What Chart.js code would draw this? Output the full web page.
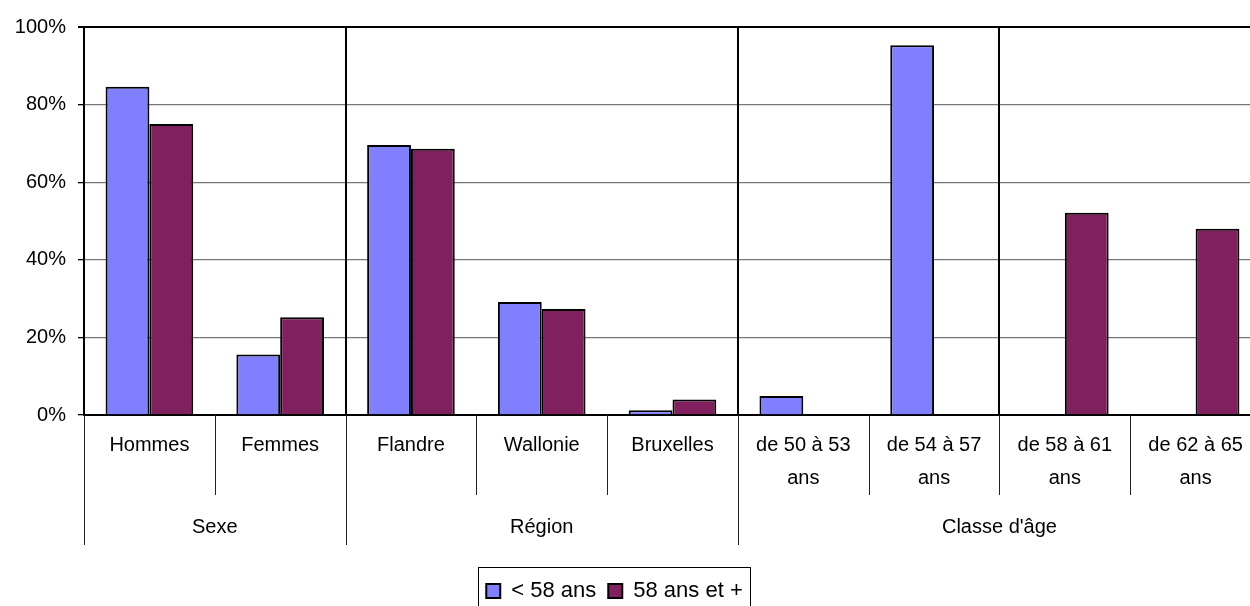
<!DOCTYPE html>
<html>
<head>
<meta charset="utf-8">
<script src="https://cdn.jsdelivr.net/npm/chart.js@4.4.0/dist/chart.umd.min.js"></script>
<style>
  html, body { margin: 0; padding: 0; background: #fff; overflow: hidden; }
  #wrap { width: 1261px; height: 620px; }
</style>
</head>
<body>
<div id="wrap"><canvas id="myChart"></canvas></div>
<script>
// categories (multi-line labels as arrays)
const categories = [
    ['Hommes'], ['Femmes'],
    ['Flandre'], ['Wallonie'], ['Bruxelles'],
    ['de 50 à 53', 'ans'], ['de 54 à 57', 'ans'], ['de 58 à 61', 'ans'], ['de 62 à 65', 'ans']
];
const groupLabels = ['Sexe', 'Région', "Classe d'âge"];
const groupSizes = [2, 3, 4];
const seriesNames = ['< 58 ans', '58 ans et +'];
// values in %
const under58 = [84.6, 15.6, 69.6, 29.1, 1.2, 4.9, 95.3, 0, 0];
const over58 = [75.0, 25.2, 68.6, 27.3, 4.0, 0, 0, 52.1, 48.0];
// black lines through the plot, at these category boundaries
const plotSeparators = [2, 5, 7];

Chart.defaults.font.family = "'Liberation Sans', Arial, sans-serif";
Chart.defaults.font.size = 20;
Chart.defaults.color = '#000';

function edgeOf(chart, i) {
    const x = chart.scales.x, a = chart.chartArea;
    if (i <= 0) return a.left;
    if (i >= categories.length) return a.right;
    return (x.getPixelForValue(i - 1) + x.getPixelForValue(i)) / 2;
}

const groupAxis = {
    id: 'groupAxis',
    afterLayout(chart) {
        // legend sits a bit left of the canvas centre
        const lg = chart.legend, shift = 16;
        lg.left -= shift;
        lg.right -= shift;
        (lg.legendHitBoxes || []).forEach(b => { b.left -= shift; });
    },
    beforeDatasetsDraw(chart) {
        const ctx = chart.ctx, a = chart.chartArea;
        ctx.save();
        ctx.strokeStyle = '#000';
        ctx.lineWidth = 2;
        plotSeparators.forEach(i => {
            const px = Math.round(edgeOf(chart, i));
            ctx.beginPath();
            ctx.moveTo(px, a.top);
            ctx.lineTo(px, a.bottom);
            ctx.stroke();
        });
        ctx.restore();
    },
    afterDraw(chart) {
        const ctx = chart.ctx, a = chart.chartArea;
        ctx.save();
        ctx.strokeStyle = '#222';
        ctx.lineWidth = 1;
        // category separators under the axis
        for (let i = 1; i < categories.length; i++) {
            const px = Math.round(edgeOf(chart, i)) + 0.5;
            ctx.beginPath();
            ctx.moveTo(px, a.bottom);
            ctx.lineTo(px, a.bottom + 80);
            ctx.stroke();
        }
        // group separators + labels
        let start = 0;
        ctx.font = "20px 'Liberation Sans', Arial, sans-serif";
        ctx.fillStyle = '#000';
        ctx.textAlign = 'center';
        ctx.textBaseline = 'middle';
        groupLabels.forEach((g, k) => {
            const x0 = edgeOf(chart, start);
            const x1 = edgeOf(chart, start + groupSizes[k]);
            const px = Math.round(x0) + 0.5;
            ctx.beginPath();
            ctx.moveTo(px, a.bottom);
            ctx.lineTo(px, a.bottom + 130);
            ctx.stroke();
            ctx.fillText(g, (x0 + x1) / 2, a.bottom + 112);
            start += groupSizes[k];
        });
        // legend frame
        const boxes = chart.legend.legendHitBoxes;
        if (boxes && boxes.length) {
            const first = boxes[0], last = boxes[boxes.length - 1];
            const l = Math.round(first.left - 8) + 0.5;
            const r = Math.round(last.left + last.width + 7) + 0.5;
            const t = Math.round(chart.legend.top) - 0.5;
            const b = Math.round(chart.legend.bottom) + 4.5;
            ctx.strokeStyle = '#000';
            ctx.strokeRect(l, t, r - l, b - t);
        }
        ctx.restore();
    }
};

const ctx = document.getElementById('myChart').getContext('2d');
const myChart = new Chart(ctx, {
    type: 'bar',
    data: {
        labels: categories,
        datasets: [{
            label: seriesNames[0],
            data: under58,
            backgroundColor: '#8080ff',
            borderColor: '#000',
            borderWidth: 2
        }, {
            label: seriesNames[1],
            data: over58,
            backgroundColor: '#80205f',
            borderColor: '#000',
            borderWidth: 2
        }]
    },
    options: {
        responsive: true,
        maintainAspectRatio: false,
        animation: false,
        datasets: {
            bar: { categoryPercentage: 0.67, barPercentage: 1.0 }
        },
        layout: { padding: { top: 27, left: 0, right: 0, bottom: 8 } },
        plugins: {
            tooltip: { enabled: false },
            legend: {
                position: 'bottom',
                labels: {
                    boxWidth: 14,
                    boxHeight: 14,
                    padding: 12,
                    font: { size: 22 }
                }
            }
        },
        scales: {
            x: {
                grid: { display: false, drawTicks: false },
                border: { color: '#000', width: 2 },
                ticks: {
                    padding: 14,
                    maxRotation: 0,
                    autoSkip: false,
                    font: { size: 20, lineHeight: 1.65 }
                },
                afterFit(scale) { scale.height = 153; }
            },
            y: {
                min: 0,
                max: 100,
                ticks: {
                    stepSize: 20,
                    padding: 12,
                    callback: v => v + '%'
                },
                grid: {
                    color: c => c.tick && c.tick.value === 100 ? '#000' : '#777',
                    lineWidth: c => c.tick && c.tick.value === 100 ? 2 : 1.3,
                    tickColor: '#000',
                    tickLength: 6
                },
                border: { color: '#000', width: 2 },
                afterFit(scale) { scale.width = 84; }
            }
        }
    },
    plugins: [groupAxis]
});
</script>
</body>
</html>
